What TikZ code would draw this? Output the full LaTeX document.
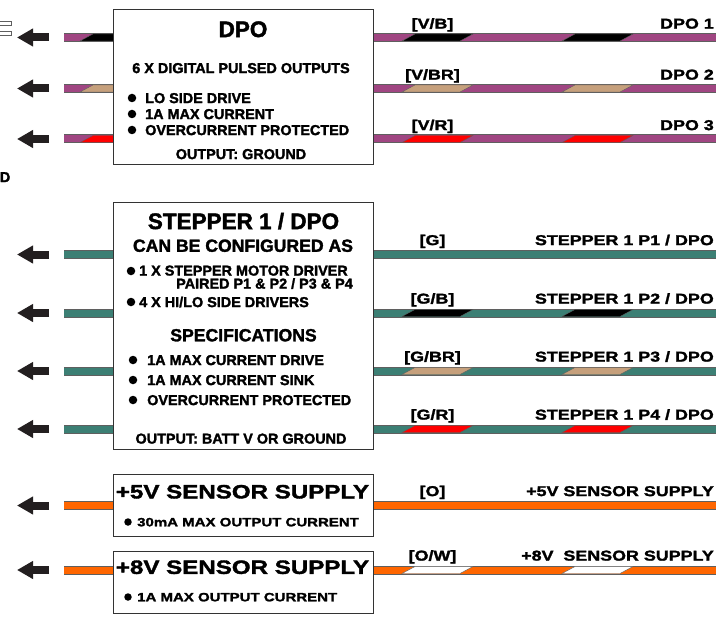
\documentclass[tikz,border=0pt]{standalone}
\usepackage{fontspec}
\setmainfont{Liberation Sans}
\newfontfamily\boxfont[FakeBold=1.8]{Liberation Sans Bold}
\newfontfamily\widefont[FakeBold=1.8,FakeStretch=1.25]{Liberation Sans Bold}
\usetikzlibrary{arrows.meta,backgrounds,positioning}

\definecolor{violetwire}{RGB}{160,70,130}
\definecolor{tealwire}{RGB}{60,127,116}
\definecolor{orangewire}{RGB}{255,102,0}
\definecolor{tanstripe}{RGB}{198,160,124}
\definecolor{wireedge}{RGB}{95,95,95}
\definecolor{arrowfill}{RGB}{35,31,32}

\tikzset{module/.style={draw=black!80, line width=0.9pt, fill=white, inner sep=0pt, minimum width=260pt},
        wire/.style={line width=1pt, draw=wireedge, double=#1, double distance=7pt},
        outarrow/.style={draw=arrowfill, line width=8pt, -{Triangle[length=16pt,width=17pt]}},
        bulletdot/.style={circle, fill=black, inner sep=0pt, minimum size=8.5pt},
        boxtxt/.style={font=\boxfont\fontsize{14.4}{16}\selectfont, inner sep=0pt, text height=10.2pt, text depth=0pt},
        boxhead/.style={font=\boxfont\fontsize{17.6}{19}\selectfont, inner sep=0pt, text height=12.6pt, text depth=0pt},
        boxtitle/.style={font=\boxfont\fontsize{22.5}{24}\selectfont, inner sep=0pt, text height=16.1pt, text depth=0pt},
        wirelabel/.style={font=\widefont\fontsize{14.3}{16}\selectfont, inner sep=0pt, text height=10.2pt, text depth=0pt},
        supplytitle/.style={font=\widefont\fontsize{19.3}{21}\selectfont, inner sep=0pt, text height=13.8pt, text depth=0pt},
        supplytxt/.style={font=\widefont\fontsize{12}{14}\selectfont, inner sep=0pt, text height=8.6pt, text depth=0pt},
        }

% one slanted colour band on a wire
\newcommand{\wirestripe}[3]{\fill[#3, draw=wireedge, line width=0.4pt] (#1,#2+3.5) -- (#1+13,#2-3.5) -- (#1+71,#2-3.5) -- (#1+58,#2+3.5) -- cycle;}

\begin{document}
\begin{tikzpicture}[x=1pt,y=-1pt]
    \useasboundingbox (0,0) rectangle (716,618);

    % cut-off parts at the left edge
    \draw[wireedge, fill=white, line width=0.8pt] (-5,21.5) rectangle (11.5,25);
    \draw[wireedge, fill=white, line width=0.8pt] (-5,31.5) rectangle (11.5,35);
    \node[boxtxt, anchor=east] (cutD) at (10.5,177) {D};

    % modules
    \node[module, minimum height=155pt] (dpo) at (243,86.5) {};
    \node[module, minimum height=247pt] (stp) at (243,325.5) {};
    \node[module, minimum height=62pt] (supFive) at (243,505) {};
    \node[module, minimum height=62pt] (supEight) at (243,582) {};

    % DPO
    \node[boxtitle] (dpoTitle) at (243,29) {DPO};
    \node[boxtxt] (dpoSub) at (241,68) {6 X DIGITAL PULSED OUTPUTS};
    \foreach \y/\t [count=\i] in {98/LO SIDE DRIVE, 114/1A MAX CURRENT, 130/OVERCURRENT PROTECTED}{
        \node[bulletdot] (dpoDot\i) at (132,\y) {};
        \node[boxtxt, anchor=west] (dpoItem\i) at (145,\y) {\t};
    }
    \node[boxtxt] (dpoOut) at (241,154) {OUTPUT: GROUND};

    % STEPPER 1 / DPO
    \node[boxtitle] (stpTitle) at (243.5,221) {STEPPER 1 / DPO};
    \node[boxhead] (stpCfg) at (243,245.5) {CAN BE CONFIGURED AS};
    \node[bulletdot] (stpDotA) at (131,271) {};
    \node[boxtxt, anchor=west] (stpItemA) at (139,270.5) {1 X STEPPER MOTOR DRIVER};
    \node[boxtxt, anchor=east] (stpItemAA) at (353,283.5) {PAIRED P1 \& P2 / P3 \& P4};
    \node[bulletdot] (stpDotB) at (131,302) {};
    \node[boxtxt, anchor=west] (stpItemB) at (139,302) {4 X HI/LO SIDE DRIVERS};
    \node[boxhead] (stpSpec) at (243.5,335) {SPECIFICATIONS};
    \foreach \y/\t [count=\i] in {360/1A MAX CURRENT DRIVE, 380/1A MAX CURRENT SINK, 400/OVERCURRENT PROTECTED}{
        \node[bulletdot] (stpSpecDot\i) at (133,\y) {};
        \node[boxtxt, anchor=west] (stpSpecItem\i) at (147,\y) {\t};
    }
    \node[boxtxt] (stpOut) at (241,438.5) {OUTPUT: BATT V OR GROUND};

    % sensor supplies
    \node[supplytitle] (supFiveTitle) at (242.5,491.5) {+5V SENSOR SUPPLY};
    \node[bulletdot, minimum size=7.5pt] (supFiveDot) at (128,522) {};
    \node[supplytxt, anchor=west] (supFiveItem) at (137,522) {30mA MAX OUTPUT CURRENT};
    \node[supplytitle] (supEightTitle) at (242.5,567) {+8V SENSOR SUPPLY};
    \node[bulletdot, minimum size=7.5pt] (supEightDot) at (128,597) {};
    \node[supplytxt, anchor=west] (supEightItem) at (137,597) {1A MAX OUTPUT CURRENT};

    % DPO wires
    \foreach \n/\y/\col/\lab/\txt in {1/37.5/black/{[V/B]}/DPO 1, 2/88.5/tanstripe/{[V/BR]}/DPO 2, 3/139/red/{[V/R]}/DPO 3}{
        \coordinate (dpoL\n) at (64,\y);
        \coordinate (dpoR\n) at (716,\y);
        \coordinate (dpoA\n) at (49,\y);
        \coordinate (dpoT\n) at (17,\y);
        \begin{scope}[on background layer]
            \draw[wire=violetwire] (dpoL\n) -- (dpo.west |- dpoL\n);
            \wirestripe{80}{\y}{\col}
            \draw[wire=violetwire] (dpo.east |- dpoR\n) -- (dpoR\n);
            \wirestripe{402}{\y}{\col}
            \wirestripe{562}{\y}{\col}
        \end{scope}
        \draw[outarrow] (dpoA\n) -- (dpoT\n);
        \node[wirelabel] (dpoLab\n) at (432.5,\y-14) {\lab};
        \node[wirelabel, anchor=east] (dpoName\n) at (714,\y-14) {\txt};
    }

    % stepper wires
    \foreach \n/\y/\lab/\txt in {1/254.5/{[G]}/{STEPPER 1 P1 / DPO}, 2/313/{[G/B]}/{STEPPER 1 P2 / DPO}, 3/371/{[G/BR]}/{STEPPER 1 P3 / DPO}, 4/429/{[G/R]}/{STEPPER 1 P4 / DPO}}{
        \coordinate (stpL\n) at (64,\y);
        \coordinate (stpR\n) at (716,\y);
        \coordinate (stpA\n) at (49,\y);
        \coordinate (stpT\n) at (17,\y);
        \begin{scope}[on background layer]
            \draw[wire=tealwire] (stpL\n) -- (stp.west |- stpL\n);
            \draw[wire=tealwire] (stp.east |- stpR\n) -- (stpR\n);
        \end{scope}
        \draw[outarrow] (stpA\n) -- (stpT\n);
        \node[wirelabel] (stpLab\n) at (432.5,\y-14.5) {\lab};
        \node[wirelabel, anchor=east] (stpName\n) at (714,\y-14.5) {\txt};
    }
    \foreach \y/\col in {313/black, 371/tanstripe, 429/red}{
        \wirestripe{402}{\y}{\col}
        \wirestripe{562}{\y}{\col}
    }

    % supply wires
    \foreach \n/\y/\mod/\lab/\txt in {1/505.5/supFive/{[O]}/+5V SENSOR SUPPLY, 2/570/supEight/{[O/W]}/+8V\ \ SENSOR SUPPLY}{
        \coordinate (supL\n) at (64,\y);
        \coordinate (supR\n) at (716,\y);
        \coordinate (supA\n) at (49,\y);
        \coordinate (supT\n) at (17,\y);
        \begin{scope}[on background layer]
            \draw[wire=orangewire] (supL\n) -- (\mod.west |- supL\n);
            \draw[wire=orangewire] (\mod.east |- supR\n) -- (supR\n);
        \end{scope}
        \draw[outarrow] (supA\n) -- (supT\n);
        \node[wirelabel] (supLab\n) at (432.5,\y-14.5) {\lab};
        \node[wirelabel, anchor=east] (supName\n) at (714,\y-14.5) {\txt};
    }
    \wirestripe{402}{570}{white}
    \wirestripe{562}{570}{white}

\end{tikzpicture}
\end{document}
